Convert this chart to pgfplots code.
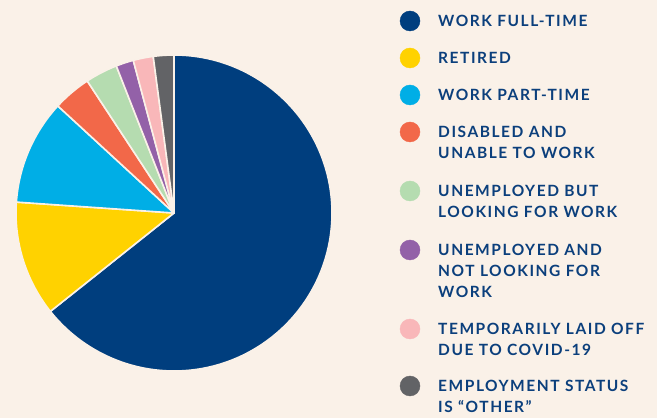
\documentclass[border=0pt]{standalone}
\usepackage{pgfplots}
\pgfplotsset{compat=1.18}
\usepackage{pgfplotstable}
\usepackage{fontspec}
\setmainfont{Lato}
\newfontfamily\legfont{Lato}[LetterSpace=10]

\definecolor{bg}{HTML}{FAF1E8}
\definecolor{cnavy}{HTML}{003E7E}
\definecolor{cyellow}{HTML}{FFD200}
\definecolor{ccyan}{HTML}{00AEE6}
\definecolor{corange}{HTML}{F26849}
\definecolor{cgreen}{HTML}{B5DCB0}
\definecolor{cpurple}{HTML}{9361A8}
\definecolor{cpink}{HTML}{F9B7B9}
\definecolor{cgray}{HTML}{626366}
\definecolor{ctext}{HTML}{0B3F7C}

% shares in percent, clockwise from 12 o'clock
\pgfplotstableread{
share col
64.3  cnavy
11.8  cyellow
10.75 ccyan
3.9   corange
3.3   cgreen
1.8   cpurple
2.05  cpink
2.1   cgray
}\shares

\tikzset{leg/.style={anchor=base west, inner sep=0pt, text=ctext,
    font=\legfont\bfseries\fontsize{15.5}{18}\selectfont}}

\begin{document}
\begin{tikzpicture}
\begin{axis}[
    hide axis, scale only axis,
    x=1pt, y=1pt,
    xmin=0, xmax=657, ymin=0, ymax=418,
    clip=false,
]
\fill[bg] (axis cs:0,0) rectangle (axis cs:657,418);

% pie slices
\def\angstart{90}
\pgfplotsforeachungrouped \i in {0,...,7}{%
    \pgfplotstablegetelem{\i}{share}\of\shares \let\sv\pgfplotsretval
    \pgfplotstablegetelem{\i}{col}\of\shares \let\scol\pgfplotsretval
    \pgfmathsetmacro\angend{\angstart-3.6*\sv}%
    \edef\slice{\noexpand\fill[\scol, draw=bg, line width=1.6pt, line join=round]
        (axis cs:174,205) -- ++(\angstart:158pt)
        arc[start angle=\angstart, end angle=\angend, radius=158pt] -- cycle;}%
    \slice
    \global\let\angstart\angend
}

% legend markers
\addplot[only marks, mark=*, mark size=10pt, color=cnavy]   coordinates {(410,397)};
\addplot[only marks, mark=*, mark size=10pt, color=cyellow] coordinates {(410,360)};
\addplot[only marks, mark=*, mark size=10pt, color=ccyan]   coordinates {(410,323)};
\addplot[only marks, mark=*, mark size=10pt, color=corange] coordinates {(410,286)};
\addplot[only marks, mark=*, mark size=10pt, color=cgreen]  coordinates {(410,227)};
\addplot[only marks, mark=*, mark size=10pt, color=cpurple] coordinates {(410,168)};
\addplot[only marks, mark=*, mark size=10pt, color=cpink]   coordinates {(410,89)};
\addplot[only marks, mark=*, mark size=10pt, color=cgray]   coordinates {(410,32)};

% legend text
\node[leg] at (axis cs:438,391.5) {WORK FULL-TIME};
\node[leg] at (axis cs:438,354.5) {RETIRED};
\node[leg] at (axis cs:438,317.5) {WORK PART-TIME};
\node[leg] at (axis cs:438,280.5) {DISABLED AND};
\node[leg] at (axis cs:438,259.5) {UNABLE TO WORK};
\node[leg] at (axis cs:438,221.5) {UNEMPLOYED BUT};
\node[leg] at (axis cs:438,200.5) {LOOKING FOR WORK};
\node[leg] at (axis cs:438,162.5) {UNEMPLOYED AND};
\node[leg] at (axis cs:438,141.5) {NOT LOOKING FOR};
\node[leg] at (axis cs:438,120.5) {WORK};
\node[leg] at (axis cs:438,83.5)  {TEMPORARILY LAID OFF};
\node[leg] at (axis cs:438,62.5)  {DUE TO COVID-19};
\node[leg] at (axis cs:438,26.5)  {EMPLOYMENT STATUS};
\node[leg] at (axis cs:438,5.5)   {IS “OTHER”};
\end{axis}
\end{tikzpicture}
\end{document}
